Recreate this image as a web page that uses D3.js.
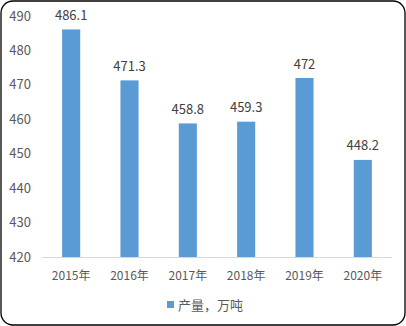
<!DOCTYPE html>
<html>
<head>
<meta charset="utf-8">
<script src="https://d3js.org/d3.v7.min.js"></script>
<style>
  body { margin: 0; background: #fff; }
  svg text { font-family: "Microsoft YaHei", "Noto Sans CJK SC", "DejaVu Sans", sans-serif; }
</style>
</head>
<body>
<div id="chart"></div>
<script>
// data
const years = ["2015年", "2016年", "2017年", "2018年", "2019年", "2020年"];
const values = [486.1, 471.3, 458.8, 459.3, 472, 448.2];
const yTicks = [420, 430, 440, 450, 460, 470, 480, 490];
const seriesName = "产量，万吨";

const W = 406, H = 326;
const svg = d3.select("#chart").append("svg")
  .attr("width", W).attr("height", H);

// outer frame
svg.append("rect")
  .attr("x", 1).attr("y", 1)
  .attr("width", W - 2).attr("height", H - 2)
  .attr("rx", 12).attr("ry", 12)
  .attr("fill", "#fff").attr("stroke", "#000").attr("stroke-width", 1.3);

const x = d3.scaleBand().domain(years).range([42, 392]).paddingInner(0.69).paddingOuter(0.345);
const y = d3.scaleLinear().domain([420, 490]).range([257, 16]);

// y tick labels
svg.selectAll(".ytick").data(yTicks).enter().append("text")
  .attr("x", 31).attr("y", d => y(d))
  .attr("dy", "0.35em")
  .attr("text-anchor", "end")
  .attr("font-size", 13)
  .attr("fill", "#595959")
  .text(d => d);

// bars
svg.selectAll(".bar").data(values).enter().append("rect")
  .attr("x", (d, i) => x(years[i]))
  .attr("y", d => y(d))
  .attr("width", x.bandwidth())
  .attr("height", d => y(420) - y(d))
  .attr("fill", "#5b9bd5");

// axis line
svg.append("line")
  .attr("x1", 42).attr("x2", 392)
  .attr("y1", y(420) + 0.5).attr("y2", y(420) + 0.5)
  .attr("stroke", "#d9d9d9").attr("stroke-width", 1);

// value labels
svg.selectAll(".val").data(values).enter().append("text")
  .attr("x", (d, i) => x(years[i]) + x.bandwidth() / 2)
  .attr("y", d => y(d) - 14)
  .attr("dy", "0.35em")
  .attr("text-anchor", "middle")
  .attr("font-size", 13)
  .attr("fill", "#404040")
  .text(d => d);

// x labels
svg.selectAll(".xl").data(years).enter().append("text")
  .attr("x", d => x(d) + x.bandwidth() / 2)
  .attr("y", 276)
  .attr("dy", "0.35em")
  .attr("text-anchor", "middle")
  .attr("font-size", 12)
  .attr("fill", "#595959")
  .text(d => d);

// legend
svg.append("rect")
  .attr("x", 167).attr("y", 301)
  .attr("width", 7).attr("height", 7)
  .attr("fill", "#5b9bd5");
svg.append("text")
  .attr("x", 178).attr("y", 305)
  .attr("dy", "0.35em")
  .attr("font-size", 13)
  .attr("fill", "#595959")
  .text(seriesName);
</script>
</body>
</html>
